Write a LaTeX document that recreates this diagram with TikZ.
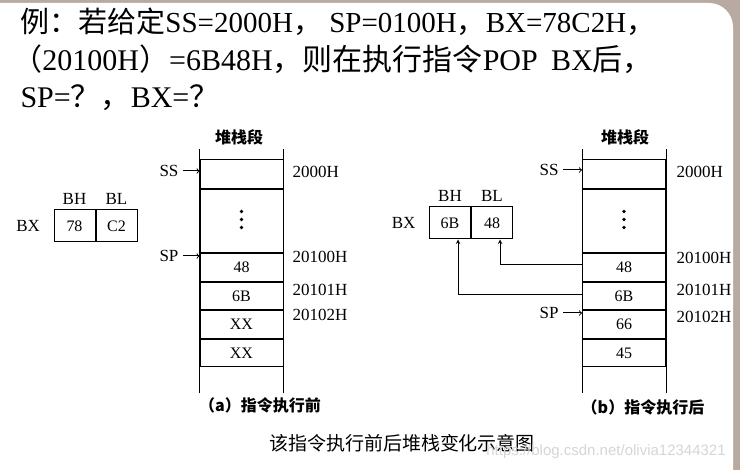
\documentclass[tikz,border=0pt]{standalone}
\usepackage{fontspec}
\setmainfont{Liberation Serif}
\setsansfont{Liberation Sans}
\newfontfamily\cjk{Noto Sans CJK SC}
\usetikzlibrary{positioning}
\definecolor{framegray}{RGB}{184,170,160}
\newcommand{\zh}[1]{{\cjk #1}}
\tikzset{
    cell/.style={draw, minimum width=83pt, minimum height=27.5pt, inner sep=0pt, font=\fontsize{16}{16}\selectfont},
    gapcell/.style={cell, minimum height=63pt},
    topcell/.style={cell, minimum height=29pt},
    reg/.style={draw, minimum width=41pt, minimum height=32pt, inner sep=0pt, font=\fontsize{16}{16}\selectfont},
    lbl/.style={inner sep=1pt, font=\fontsize{17}{17}\selectfont},
    addr/.style={lbl, anchor=west},
    head/.style={inner sep=1pt, font=\cjk\bfseries\fontsize{16}{16}\selectfont},
    topline/.style={anchor=base west, inner sep=0pt, font=\fontsize{29}{29}\selectfont},
}

\begin{document}
\begin{tikzpicture}[x=1pt, y=-1pt, line width=1pt]
\useasboundingbox (0,0) rectangle (740,470);
\fill[framegray] (0,0) rectangle (740,470);
\fill[white, rounded corners=24pt] (-30,3) rectangle (733,500);
% question
\node[topline] (q1) at (20,33) {\zh{例：若给定}SS=2000H\zh{，} SP=0100H\zh{，}BX=78C2H\zh{，}};
\node[topline, font=\fontsize{30}{30}\selectfont] (q2) at (12,71) {\zh{（}20100H\zh{）}=6B48H\zh{，则在执行指令}POP\hspace{0.45em}BX\zh{后，}};
\node[topline, font=\fontsize{30}{30}\selectfont] (q3) at (20,108) {SP=\zh{？，}BX=\zh{？}};
% (a) before
\node[topcell] (a0) at (241.5,174.5) {};
\node[gapcell, below=0pt of a0] (ag) {};
\node[cell, below=0pt of ag] (a1) {48};
\node[cell, below=0pt of a1] (a2) {6B};
\node[cell, below=0pt of a2] (a3) {XX};
\node[cell, below=0pt of a3] (a4) {XX};
\foreach \d in {-8,0,8}
    \fill ([yshift=\d pt+2pt]ag.center) circle (1.8pt);
\draw ([yshift=10pt]a0.north west) -- ([yshift=-26pt]a4.south west);
\draw ([yshift=10pt]a0.north east) -- ([yshift=-26pt]a4.south east);
\node[head] (atit) at (239,137) {堆栈段};
\node[lbl] (ass) at (169,171) {SS};
\draw[->] ([xshift=3pt]ass.east) -- (ass.east -| a0.west);
\node[lbl] (asp) at (169,256) {SP};
\draw[->] ([xshift=3pt]asp.east) -- (asp.east -| a1.west);
\node[addr] (aad0) at (291,172) {2000H};
\node[addr] (aad1) at (291,257) {20100H};
\node[addr] (aad2) at (291,290) {20101H};
\node[addr] (aad3) at (291,315) {20102H};
\node[reg] (abh) at (74.5,226) {78};
\node[reg, right=0pt of abh] (abl) {C2};
\node[lbl, above=3pt of abh] (abhn) {BH};
\node[lbl, above=3pt of abl] (abln) {BL};
\node[lbl, left=12pt of abh] (abx) {BX};
\node[head] (acap) at (260,405) {（a）指令执行前};
% (b) after
\node[topcell] (b0) at (624,174.5) {};
\node[gapcell, below=0pt of b0] (bg) {};
\node[cell, below=0pt of bg] (b1) {48};
\node[cell, below=0pt of b1] (b2) {6B};
\node[cell, below=0pt of b2] (b3) {66};
\node[cell, below=0pt of b3] (b4) {45};
\foreach \d in {-8,0,8}
    \fill ([yshift=\d pt+2pt]bg.center) circle (1.8pt);
\draw ([yshift=10pt]b0.north west) -- ([yshift=-26pt]b4.south west);
\draw ([yshift=10pt]b0.north east) -- ([yshift=-26pt]b4.south east);
\node[head] (btit) at (625,137) {堆栈段};
\node[lbl] (bss) at (549,170) {SS};
\draw[->] ([xshift=3pt]bss.east) -- (bss.east -| b0.west);
\node[lbl] (bsp) at (549,313) {SP};
\draw[->] ([xshift=3pt]bsp.east) -- (bsp.east -| b3.west);
\node[addr] (bad0) at (675,172) {2000H};
\node[addr] (bad1) at (675,258) {20100H};
\node[addr] (bad2) at (675,290) {20101H};
\node[addr] (bad3) at (675,317) {20102H};
\node[reg] (bbh) at (450,223) {6B};
\node[reg, right=0pt of bbh] (bbl) {48};
\node[lbl, above=3pt of bbh] (bbhn) {BH};
\node[lbl, above=3pt of bbl] (bbln) {BL};
\node[lbl, left=12pt of bbh] (bbx) {BX};
\draw[->, >=stealth] ([yshift=3pt]b1.west) -| ([xshift=8pt]bbl.south);
\draw[->, >=stealth] ([yshift=2pt]b2.west) -| ([xshift=8pt]bbh.south);
\node[head] (bcap) at (643,407) {（b）指令执行后};
% caption
\node[font=\cjk\fontsize{19}{19}\selectfont] (cap) at (402,443) {该指令执行前后堆栈变化示意图};
\node[font=\sffamily\fontsize{15}{15}\selectfont, text=black!16] (wm) at (606,452) {https://blog.csdn.net/olivia12344321};
\end{tikzpicture}
\end{document}
